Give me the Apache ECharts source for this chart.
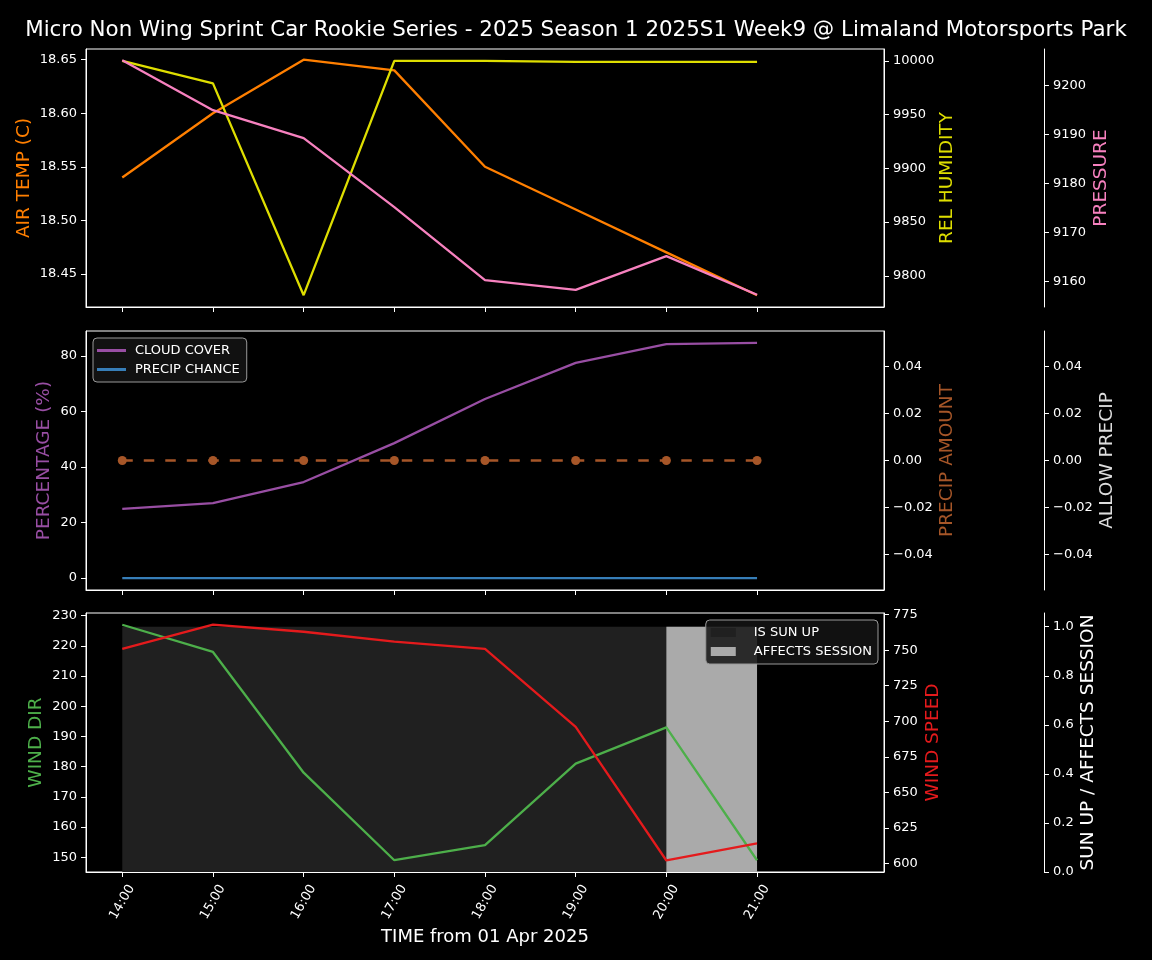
<!DOCTYPE html>
<html>
<head>
<meta charset="utf-8">
<script src="https://cdn.jsdelivr.net/npm/echarts@6/dist/echarts.min.js"></script>
<style>
  html, body { margin: 0; padding: 0; background: #000; }
  #chart { width: 1152px; height: 960px; }
</style>
</head>
<body>
<div id="chart"></div>
<script>
// data, one point per hour
const hours = ['14:00', '15:00', '16:00', '17:00', '18:00', '19:00', '20:00', '21:00'];
const airTemp = [18.54, 18.60, 18.65, 18.64, 18.55, 18.51, 18.47, 18.43];
const relHumidity = [10000, 9979, 9782, 10000, 10000, 9999, 9999, 9999];
const pressure = [9205.2, 9195.0, 9189.3, 9175.2, 9160.3, 9158.3, 9165.2, 9157.3];
const cloudCover = [24.9, 27.0, 34.6, 48.6, 64.5, 77.5, 84.3, 84.7];
const precipChance = [0, 0, 0, 0, 0, 0, 0, 0];
const precipAmount = [0, 0, 0, 0, 0, 0, 0, 0];
const windDir = [227, 218, 178, 149, 154, 181, 193, 149];
const windSpeed = [751, 768, 763, 756, 751, 696, 602, 614];
const sunUp = [1, 1, 1, 1, 1, 1, 1, 1];
const affectsSession = [0, 0, 0, 0, 0, 0, 1, 1];

const airTempTicks = [18.45, 18.50, 18.55, 18.60, 18.65];
const humidityTicks = [9800, 9850, 9900, 9950, 10000];
const pressureTicks = [9160, 9170, 9180, 9190, 9200];
const percentTicks = [0, 20, 40, 60, 80];
const precipTicks = [-0.04, -0.02, 0, 0.02, 0.04];
const windDirTicks = [150, 160, 170, 180, 190, 200, 210, 220, 230];
const windSpeedTicks = [600, 625, 650, 675, 700, 725, 750, 775];
const sunTicks = [0, 0.2, 0.4, 0.6, 0.8, 1.0];

const C = {
  orange: '#ff7f00', yellow: '#dede00', pink: '#f781bf', purple: '#984ea3',
  blue: '#377eb8', brown: '#a65628', green: '#4daf4a', red: '#e41a1c'
};
const FONT = 'DejaVu Sans';
const LW = 2.3;

let chart = echarts.init(document.getElementById('chart'));

const pts = arr => arr.map((v, i) => [i, v]);
const minus = s => s.replace('-', '\u2212');

const grids = [
  { left: 86, right: 268, top: 49, height: 258 },
  { left: 86, right: 268, top: 331, height: 259 },
  { left: 86, right: 268, top: 613, height: 259 }
].map(g => Object.assign(g, { show: true, borderColor: '#fff', borderWidth: 1, containLabel: false }));

function xAx(i, labels) {
  return {
    type: 'value', gridIndex: i, min: -0.4, max: 8.4,
    splitLine: { show: false },
    axisLine: { show: true, onZero: false, lineStyle: { color: '#fff' } },
    axisTick: { show: true, inside: false, length: 5, lineStyle: { color: '#fff' }, customValues: [0, 1, 2, 3, 4, 5, 6, 7] },
    axisLabel: {
      show: labels, customValues: [0, 1, 2, 3, 4, 5, 6, 7], rotate: 60, color: '#fff',
      fontFamily: FONT, fontSize: 13, margin: 30, align: 'center', verticalAlign: 'middle',
      formatter: v => hours[Math.round(v)]
    },
    name: labels ? 'TIME from 01 Apr 2025' : '',
    nameLocation: 'middle', nameGap: 56,
    nameTextStyle: { color: '#fff', fontFamily: FONT, fontSize: 18 }
  };
}

function yAx(i, pos, offset, name, color, min, max, ticks, fmt, gap) {
  return {
    type: 'value', gridIndex: i, position: pos, offset: offset, min: min, max: max,
    splitLine: { show: false },
    axisLine: { show: true, onZero: false, lineStyle: { color: '#fff' } },
    axisTick: { show: true, inside: false, length: 5, lineStyle: { color: '#fff' }, customValues: ticks },
    axisLabel: { customValues: ticks, color: '#fff', fontFamily: FONT, fontSize: 13, margin: 9, formatter: fmt },
    name: name, nameLocation: 'middle', nameGap: gap, nameRotate: 90, nameMoveOverlap: false,
    nameTextStyle: { color: color, fontFamily: FONT, fontSize: 18.5 }
  };
}

function line(name, x, y, data, color, extra) {
  return Object.assign({
    name: name, type: 'line', xAxisIndex: x, yAxisIndex: y, data: pts(data),
    showSymbol: false, symbol: 'none', lineStyle: { color: color, width: LW },
    itemStyle: { color: color }, z: 3, animation: false
  }, extra || {});
}

const legendBox = {
  orient: 'vertical', itemGap: 6, icon: 'rect',
  backgroundColor: 'rgba(20,20,20,0.85)', borderColor: '#999', borderWidth: 1, borderRadius: 4
};

const option = {
  backgroundColor: '#000',
  animation: false,
  title: {
    text: 'Micro Non Wing Sprint Car Rookie Series - 2025 Season 1 2025S1 Week9 @ Limaland Motorsports Park',
    left: 'center', top: 15,
    textStyle: { color: '#fff', fontFamily: FONT, fontSize: 21.4, fontWeight: 'normal' }
  },
  grid: grids,
  legend: [
    Object.assign({
      left: 93, top: 338, itemWidth: 29, itemHeight: 3, padding: [6, 7, 6, 4],
      textStyle: { color: '#fff', fontFamily: FONT, fontSize: 13, padding: [0, 0, 0, 4] },
      data: ['CLOUD COVER', 'PRECIP CHANCE']
    }, legendBox),
    Object.assign({
      right: 274, top: 620, itemWidth: 25, itemHeight: 9, padding: [6, 6, 6, 5],
      textStyle: { color: '#fff', fontFamily: FONT, fontSize: 13, padding: [0, 0, 0, 13] },
      data: ['IS SUN UP', 'AFFECTS SESSION']
    }, legendBox)
  ],
  xAxis: [xAx(0, false), xAx(1, false), xAx(2, true)],
  yAxis: [
    yAx(0, 'left', 0, 'AIR TEMP (C)', C.orange, 18.419, 18.660, airTempTicks, v => v.toFixed(2), 52),
    yAx(0, 'right', 0, 'REL HUMIDITY', C.yellow, 9771, 10011, humidityTicks, v => String(v), 54),
    yAx(0, 'right', 160, 'PRESSURE', C.pink, 9154.8, 9207.5, pressureTicks, v => String(v), 48),
    yAx(1, 'left', 0, 'PERCENTAGE (%)', C.purple, -4.3, 89, percentTicks, v => String(v), 32),
    yAx(1, 'right', 0, 'PRECIP AMOUNT', C.brown, -0.055, 0.055, precipTicks, v => minus(v.toFixed(2)), 54),
    yAx(1, 'right', 160, 'ALLOW PRECIP', '#ddd', -0.055, 0.055, precipTicks, v => minus(v.toFixed(2)), 54),
    yAx(2, 'left', 0, 'WIND DIR', C.green, 145.1, 230.9, windDirTicks, v => String(v), 40),
    yAx(2, 'right', 0, 'WIND SPEED', C.red, 593.9, 776.2, windSpeedTicks, v => String(v), 40),
    yAx(2, 'right', 160, 'SUN UP / AFFECTS SESSION', '#fff', 0, 1.056, sunTicks, v => v.toFixed(1), 35)
  ],
  series: [
    line('AIR TEMP', 0, 0, airTemp, C.orange),
    line('REL HUMIDITY', 0, 1, relHumidity, C.yellow),
    line('PRESSURE', 0, 2, pressure, C.pink),
    line('CLOUD COVER', 1, 3, cloudCover, C.purple),
    line('PRECIP CHANCE', 1, 3, precipChance, C.blue),
    line('PRECIP AMOUNT', 1, 4, precipAmount, C.brown, {
      showSymbol: true, symbol: 'circle', symbolSize: 9,
      lineStyle: { color: C.brown, width: LW, type: [10.5, 11] }
    }),
    line('IS SUN UP', 2, 8, sunUp, '#202020', {
      step: 'end', lineStyle: { width: 0, color: '#202020' }, areaStyle: { color: '#202020', opacity: 1 }, z: 1
    }),
    line('AFFECTS SESSION', 2, 8, affectsSession, '#aaaaaa', {
      step: 'end', lineStyle: { width: 0, color: '#aaaaaa' }, areaStyle: { color: '#aaaaaa', opacity: 1 }, z: 2
    }),
    line('WIND DIR', 2, 6, windDir, C.green),
    line('WIND SPEED', 2, 7, windSpeed, C.red)
  ]
};

chart.setOption(option);
window.addEventListener('resize', function () {
  chart.resize();
});
</script>
</body>
</html>
